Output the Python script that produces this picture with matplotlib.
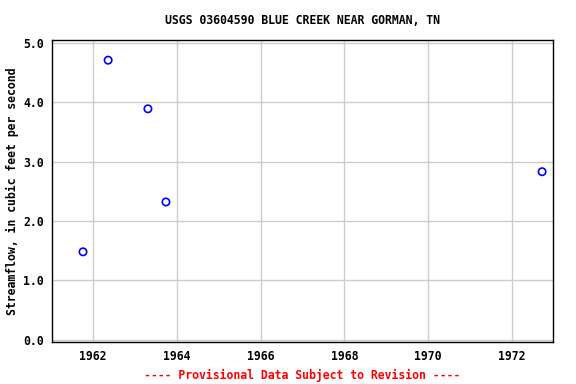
import matplotlib
matplotlib.use("Agg")
import matplotlib.pyplot as plt

years = [1961.76, 1962.36, 1963.31, 1963.74, 1972.72]
flow = [1.48, 4.71, 3.89, 2.32, 2.83]
xticks = [1962, 1964, 1966, 1968, 1970, 1972]
yticks = [0.0, 1.0, 2.0, 3.0, 4.0, 5.0]

plt.rcParams['font.family'] = ['DejaVu Sans Mono']
plt.rcParams['font.weight'] = 'bold'
fs = 8.3

fig = plt.figure(figsize=(5.76, 3.84), dpi=100)
ax = fig.add_axes([52/576, 1-342/384, (553-52)/576, (342-40)/384])
ax.scatter(years, flow, s=28, facecolors='none', edgecolors='#0000ff', linewidths=1.2, zorder=3)
ax.set_xlim(1961.02, 1972.98)
ax.set_ylim(-0.04, 5.05)
ax.set_xticks(xticks)
ax.set_xticklabels([str(t) for t in xticks], fontsize=fs, fontweight='bold')
ax.set_yticks(yticks)
ax.set_yticklabels([f"{t:.1f}" for t in yticks], fontsize=fs, fontweight='bold')
ax.grid(True, color='#cccccc', linewidth=1)
ax.set_axisbelow(True)
ax.tick_params(length=0, pad=6)
for s in ax.spines.values():
    s.set_linewidth(1)
    s.set_color('black')
ax.set_ylabel('Streamflow, in cubic feet per second', fontsize=fs, fontweight='bold', labelpad=3)
cx = (52 + 553) / 2 / 576
fig.text(cx, 1-20/384, 'USGS 03604590 BLUE CREEK NEAR GORMAN, TN', ha='center', va='center', fontsize=fs, fontweight='bold')
fig.text(cx, 1-375/384, '---- Provisional Data Subject to Revision ----', ha='center', va='center', fontsize=fs, fontweight='bold', color='red')
fig.savefig('out.png', dpi=100)
